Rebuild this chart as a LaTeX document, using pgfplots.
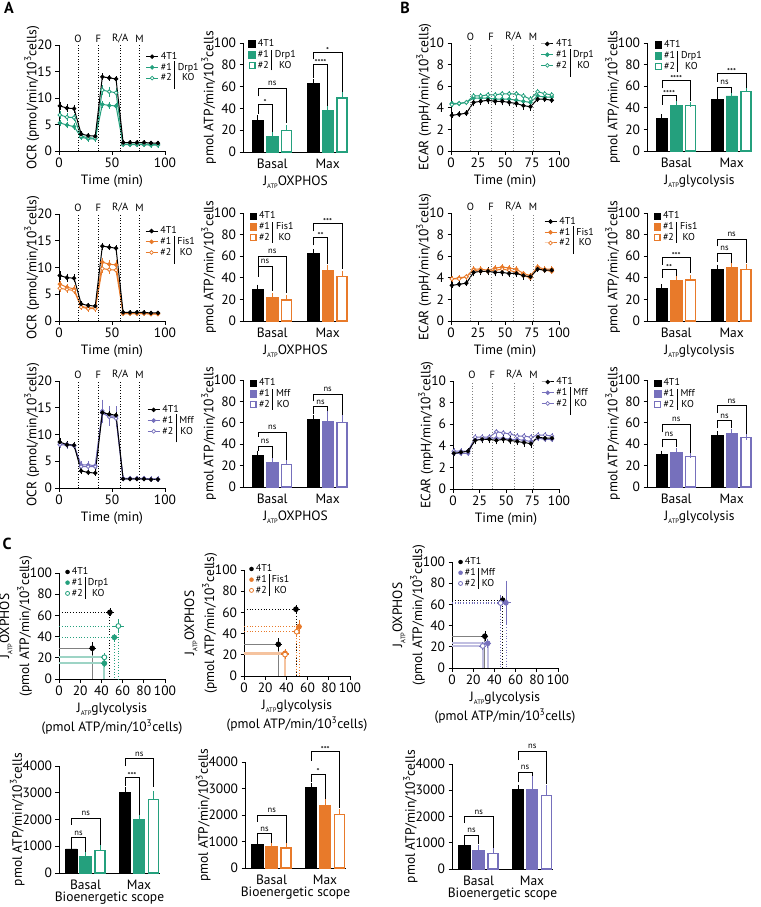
\documentclass[border=0pt]{standalone}
\usepackage{fontspec}
\setmainfont{PT Sans}
\usepackage{pgfplots}
\usepackage{pgfplotstable}
\pgfplotsset{compat=1.18}
\usetikzlibrary{calc}

\definecolor{tealc}{RGB}{36,160,125}
\definecolor{orangec}{RGB}{232,122,42}
\definecolor{purplec}{RGB}{118,112,188}

\newcommand{\tickf}{\fontsize{13.5}{14}\selectfont}
\newcommand{\labf}{\fontsize{13.5}{15}\selectfont}
\newcommand{\legf}{\fontsize{10}{10}\selectfont}
\newcommand{\injf}{\fontsize{10.5}{11}\selectfont}
\newcommand{\sigf}{\fontsize{8.5}{9}\selectfont}
\newcommand{\JATP}{J\raisebox{-0.5ex}{\fontsize{6.5}{7}\selectfont ATP}}
\newlength{\kow}
\newcommand{\under}[2]{\settowidth{\kow}{#1}\makebox[\kow][c]{#2}}

% OCR / ECAR time courses: t, 4T1 (k), clone #1 (a), clone #2 (b), each with its error
\pgfplotstableread{
t k ke a ae b be
0.8 8.5 0.5 5.3 0.3 6.8 0.4
7.5 8.1 0.4 4.9 0.3 6.4 0.4
14.2 8.0 0.4 4.6 0.3 6.3 0.3
20.9 3.2 0.2 2.6 0.2 2.8 0.2
27.5 2.9 0.2 2.3 0.2 2.5 0.2
34.2 2.8 0.2 2.3 0.2 2.4 0.2
40.9 14.0 0.3 8.8 0.3 11.5 0.6
47.4 13.8 0.2 8.6 0.3 11.2 0.6
53.8 13.6 0.2 8.5 0.3 11.0 0.6
60.5 1.6 0.1 1.2 0.1 1.3 0.1
67.0 1.6 0.1 1.2 0.1 1.3 0.1
73.5 1.6 0.1 1.2 0.1 1.3 0.1
80.2 1.6 0.1 1.2 0.1 1.3 0.1
86.8 1.5 0.1 1.1 0.1 1.3 0.1
93.3 1.5 0.1 1.1 0.1 1.2 0.1
}\ocrD
\pgfplotstableread{
t k ke a ae b be
0.8 8.5 0.5 6.9 0.3 6.1 0.3
7.5 8.1 0.4 6.3 0.3 5.9 0.3
14.2 8.0 0.4 6.0 0.3 5.7 0.3
20.9 3.2 0.2 2.7 0.2 2.6 0.2
27.5 2.9 0.2 2.5 0.2 2.3 0.2
34.2 2.8 0.2 2.4 0.2 2.3 0.2
40.9 14.0 0.3 11.0 0.5 9.8 0.5
47.4 13.8 0.2 10.6 0.5 9.6 0.5
53.8 13.6 0.2 10.5 0.5 9.5 0.5
60.5 1.6 0.1 1.4 0.1 1.4 0.1
67.0 1.6 0.1 1.4 0.1 1.4 0.1
73.5 1.6 0.1 1.4 0.1 1.4 0.1
80.2 1.6 0.1 1.4 0.1 1.4 0.1
86.8 1.5 0.1 1.4 0.1 1.3 0.1
93.3 1.5 0.1 1.4 0.1 1.3 0.1
}\ocrF
\pgfplotstableread{
t k ke a ae b be
0.8 8.6 0.4 8.2 0.4 8.1 0.3
7.5 8.1 0.3 8.2 0.3 8.0 0.3
14.2 8.0 0.3 8.0 0.3 7.9 0.3
20.9 3.2 0.2 4.3 0.4 4.0 0.3
27.5 2.9 0.2 4.3 0.4 4.0 0.3
34.2 2.8 0.2 4.2 0.4 4.0 0.3
40.9 14.1 0.3 14.4 1.8 14.0 1.5
47.4 13.8 0.2 13.5 1.5 13.3 1.2
53.8 13.6 0.2 13.4 1.5 13.0 1.2
60.5 1.7 0.1 1.8 0.2 1.7 0.1
67.0 1.7 0.1 1.8 0.2 1.7 0.1
73.5 1.7 0.1 1.8 0.2 1.7 0.1
80.2 1.7 0.1 1.8 0.2 1.7 0.1
86.8 1.6 0.1 1.7 0.2 1.6 0.1
93.3 1.6 0.1 1.7 0.2 1.6 0.1
}\ocrM
\pgfplotstableread{
t k ke a ae b be
0.8 3.3 0.1 4.4 0.1 4.3 0.1
7.5 3.4 0.1 4.4 0.1 4.4 0.1
14.2 3.5 0.1 4.5 0.1 4.5 0.1
20.9 4.5 0.2 4.9 0.1 5.1 0.1
27.5 4.6 0.2 4.9 0.1 5.1 0.1
34.2 4.7 0.2 4.9 0.1 5.2 0.1
40.9 4.6 0.2 4.8 0.1 5.2 0.1
47.4 4.6 0.2 4.8 0.1 5.3 0.1
53.8 4.5 0.2 4.8 0.1 5.3 0.1
60.5 4.4 0.2 4.7 0.1 5.3 0.1
67.0 4.2 0.2 4.6 0.1 5.1 0.1
73.5 4.1 0.2 4.5 0.1 4.8 0.1
80.2 4.8 0.1 5.1 0.1 5.5 0.1
86.8 4.8 0.1 5.0 0.1 5.3 0.1
93.3 4.7 0.1 5.0 0.1 5.2 0.1
}\ecD
\pgfplotstableread{
t k ke a ae b be
0.8 3.3 0.1 3.9 0.1 3.9 0.1
7.5 3.4 0.1 4.0 0.1 3.9 0.1
14.2 3.5 0.1 4.1 0.1 4.1 0.1
20.9 4.5 0.2 4.8 0.1 4.7 0.1
27.5 4.6 0.2 4.8 0.1 4.6 0.1
34.2 4.6 0.2 4.7 0.1 4.6 0.1
40.9 4.5 0.2 4.9 0.1 4.7 0.1
47.4 4.5 0.2 5.0 0.1 4.8 0.1
53.8 4.4 0.2 4.9 0.1 4.7 0.1
60.5 4.4 0.2 4.8 0.1 4.5 0.1
67.0 4.2 0.2 4.4 0.1 4.2 0.1
73.5 4.1 0.2 4.2 0.1 4.0 0.1
80.2 4.8 0.1 5.0 0.1 4.9 0.1
86.8 4.7 0.1 4.8 0.1 4.7 0.1
93.3 4.7 0.1 4.8 0.1 4.6 0.1
}\ecF
\pgfplotstableread{
t k ke a ae b be
0.8 3.3 0.1 3.3 0.1 3.5 0.1
7.5 3.4 0.1 3.3 0.1 3.5 0.1
14.2 3.5 0.1 3.3 0.1 3.5 0.1
20.9 4.5 0.2 4.6 0.1 4.8 0.1
27.5 4.6 0.2 4.6 0.1 4.8 0.1
34.2 4.6 0.2 4.7 0.1 4.8 0.1
40.9 4.5 0.2 4.7 0.1 5.3 0.1
47.4 4.6 0.2 4.7 0.1 5.2 0.1
53.8 4.5 0.2 4.6 0.1 5.1 0.1
60.5 4.4 0.2 4.6 0.1 4.9 0.1
67.0 4.3 0.2 4.5 0.1 4.9 0.1
73.5 4.2 0.2 4.4 0.1 4.8 0.1
80.2 4.8 0.1 4.7 0.1 5.0 0.1
86.8 4.7 0.1 4.6 0.1 5.0 0.1
93.3 4.7 0.1 4.6 0.1 4.9 0.1
}\ecM

\pgfplotsset{
  basic/.style={
    scale only axis, anchor=north west, axis lines=left,
    axis line style={-, line width=0.8pt},
    tick style={black, line width=0.8pt}, tick align=outside, major tick length=3.5pt,
    tick label style={font=\tickf}, label style={font=\labf}, ylabel shift=-9pt,
    /pgf/number format/assume math mode=true, /pgf/number format/1000 sep={},
    clip=false, legend cell align=left,
    legend style={draw=none, fill=none, font=\legf, anchor=north west,
      row sep=0.5pt, column sep=1.5pt, inner sep=0pt, nodes={inner sep=0.8pt}},
    legend image code/.code={\draw[mark repeat=2,mark phase=2,##1] plot coordinates {(0pt,0pt) (6pt,0pt) (12pt,0pt)};},
  },
  ocr/.style={basic, width=106pt, height=106pt, xmin=0, xmax=100, ymin=0, ymax=20,
    xtick={0,50,100}, ytick={0,5,...,20}, xlabel={Time (min)},
    ylabel={OCR (pmol/min/10\textsuperscript{3}cells)}},
  ecar/.style={basic, width=108pt, height=108pt, xmin=0, xmax=100, ymin=0, ymax=10,
    xtick={0,25,...,100}, ytick={0,2,...,10}, xlabel={Time (min)},
    ylabel={ECAR (mpH/min/10\textsuperscript{3}cells)}},
  barax/.style={basic, width=105pt, height=108pt, xmin=0, xmax=106, ymin=0, ymax=100,
    ytick={0,20,...,100}, xtick={29.5,85.5}, xticklabels={Basal,Max},
    major x tick style={draw=none}, ylabel={pmol ATP/min/10\textsuperscript{3}cells}},
  barbot/.style={basic, width=101pt, height=107pt, xmin=0, xmax=101, ymin=0, ymax=4000,
    ytick={0,1000,...,4000}, xtick={26.5,80}, xticklabels={Basal,Max},
    major x tick style={draw=none}, xlabel={Bioenergetic scope}, xlabel shift=-4.5pt,
    ylabel={pmol ATP/min/10\textsuperscript{3}cells}},
  sc/.style={basic, width=106pt, height=106pt, xmin=0, xmax=100, ymin=0, ymax=100,
    xtick={0,20,...,100}, ytick={0,20,...,100},
    xlabel style={align=center, font=\fontsize{13.5}{19}\selectfont},
    ylabel style={align=center, font=\fontsize{13.5}{20}\selectfont},
    xlabel={\JATP glycolysis\\(pmol ATP/min/10\textsuperscript{3}cells)},
    ylabel={\JATP OXPHOS\\(pmol ATP/min/10\textsuperscript{3}cells)},
    legend image code/.code={\draw[##1] plot coordinates {(2.5pt,0pt)};}},
  lg/.style={line width=1pt, mark=*, mark size=1.9pt, mark options={solid, line width=0.7pt}},
  ser/.style={lg, error bars/y dir=both, error bars/y explicit,
    error bars/error bar style={line width=0.6pt},
    error bars/error mark options={mark size=1.8pt, line width=0.6pt}},
  bk/.style={ybar, bar shift=0pt, bar width=11.5, line width=0.8pt,
    error bars/y dir=plus, error bars/y explicit,
    error bars/error bar style={line width=0.9pt},
    error bars/error mark options={mark size=2.8pt, line width=0.9pt}},
  pt/.style={only marks, mark=*, mark size=2.4pt, mark options={line width=0.8pt},
    error bars/x dir=both, error bars/x explicit, error bars/y dir=both, error bars/y explicit,
    error bars/error bar style={line width=0.7pt},
    error bars/error mark options={mark size=2pt, line width=0.7pt}},
}

\newcommand{\linelegend}[3]{%
  \addlegendimage{lg, black}\addlegendentry{4T1\rule[-#3]{0pt}{0pt}}
  \addlegendimage{lg, #1}\addlegendentry{\#1\hspace{2.5pt}\smash{\rule[-19pt]{0.6pt}{28pt}}\hspace{3pt}#2}
  \addlegendimage{lg, #1, mark options={solid, fill=white, line width=0.7pt}}\addlegendentry{\#2\hspace{6.1pt}\under{#2}{KO}}
}
\newcommand{\barlegend}[2]{%
  \addlegendimage{legend image code/.code={\draw[fill=black,draw=black] (0pt,-3.4pt) rectangle (6.8pt,3.4pt);}}\addlegendentry{4T1}
  \addlegendimage{legend image code/.code={\draw[fill=#1,draw=#1] (0pt,-3.4pt) rectangle (6.8pt,3.4pt);}}\addlegendentry{\#1\hspace{2.5pt}\smash{\rule[-13pt]{0.6pt}{20.5pt}}\hspace{3pt}#2}
  \addlegendimage{legend image code/.code={\draw[fill=white,draw=#1,line width=1.1pt] (0.5pt,-2.9pt) rectangle (6.3pt,2.9pt);}}\addlegendentry{\#2\hspace{6.1pt}\under{#2}{KO}}
}
\newcommand{\scatlegend}[2]{%
  \addlegendimage{only marks, mark=*, mark size=2pt, black}\addlegendentry{4T1}
  \addlegendimage{only marks, mark=*, mark size=2pt, #1}\addlegendentry{\#1\hspace{2pt}\smash{\rule[-13.5pt]{0.6pt}{21.5pt}}\hspace{2.5pt}#2}
  \addlegendimage{only marks, mark=*, mark size=2pt, #1, mark options={fill=white, line width=0.8pt}}\addlegendentry{\#2\hspace{5.1pt}\under{#2}{KO}}
}
\newcommand{\threelines}[2]{%
  \addplot[ser, #2] table[x=t, y=a, y error=ae] {#1};
  \addplot[ser, #2, mark options={solid, fill=white, line width=0.8pt}] table[x=t, y=b, y error=be] {#1};
  \addplot[ser, black] table[x=t, y=k, y error=ke] {#1};
}
\newcommand{\inj}[2]{%
  \draw[#2, dotted, line width=0.7pt] (axis cs:18,0) -- (axis cs:18,#1) node[above, black, font=\injf, inner sep=2pt] {O};
  \draw[#2, dotted, line width=0.7pt] (axis cs:37,0) -- (axis cs:37,#1) node[above, black, font=\injf, inner sep=2pt] {F};
  \draw[#2, dotted, line width=0.7pt] (axis cs:57.8,0) -- (axis cs:57.8,#1) node[above, black, font=\injf, inner sep=2pt] {R/A};
  \draw[#2, dotted, line width=0.7pt] (axis cs:76,0) -- (axis cs:76,#1) node[above, black, font=\injf, inner sep=2pt] {M};
}
\newcommand{\bars}[4]{%
  \addplot[bk, fill=black, draw=black, error bars/error bar style={black}] coordinates {#2};
  \addplot[bk, fill=#1, draw=#1, error bars/error bar style={#1}] coordinates {#3};
  \addplot[bk, fill=white, draw=#1, line width=1.3pt, bar width=10.2, error bars/error bar style={#1}] coordinates {#4};
}
% bracket between two bars: x1, x2, height, left leg end, right leg end, label
\newcommand{\sig}[6]{%
  \draw[line width=0.7pt] (axis cs:#1,#4) |- (axis cs:#2,#3) -- (axis cs:#2,#5);
  \node[font=\sigf, anchor=base, inner sep=0pt, yshift=2.5pt] at ($(axis cs:#1,#3)!0.5!(axis cs:#2,#3)$) {#6};
}
\newcommand{\sigs}[6]{%
  \draw[line width=0.7pt] (axis cs:#1,#4) |- (axis cs:#2,#3) -- (axis cs:#2,#5);
  \node[font=\sigf, anchor=base, inner sep=0pt, yshift=-1pt] at ($(axis cs:#1,#3)!0.5!(axis cs:#2,#3)$) {#6};
}
\newcommand{\guide}[3]{\addplot[#3] coordinates {(0,#2) (#1,#2) (#1,0)};}

\begin{document}
\begin{tikzpicture}
\path[use as bounding box] (0,0) rectangle (760pt,-907pt);
\node[font=\fontsize{16}{16}\selectfont\bfseries] at (9pt,-8pt) {A};
\node[font=\fontsize{16}{16}\selectfont\bfseries] at (405pt,-8pt) {B};
\node[font=\fontsize{16}{16}\selectfont\bfseries] at (7pt,-544pt) {C};

% ---------- row 1: Drp1 ----------
\begin{axis}[ocr, at={(59pt,-45pt)}, legend style={at={(0.815,0.94)}}]
  \linelegend{tealc}{Drp1}{4pt}
  \threelines{\ocrD}{tealc}
  \inj{20}{black}
\end{axis}
\begin{axis}[barax, at={(243pt,-43pt)}, height=109pt, xlabel={\JATP OXPHOS}, legend style={at={(0.05,1.04)}}]
  \barlegend{tealc}{Drp1}
  \bars{tealc}{(15,29) +- (0,2) (71,62.5) +- (0,1.5)}{(29.5,14.5) +- (0,1.5) (85.5,38.5) +- (0,0.7)}{(44,20) +- (0,2) (100,49.5) +- (0,3)}
  \sigs{15}{29.5}{43.5}{35}{18}{*}
  \sig{15}{44}{58.5}{51}{27}{ns}
  \sigs{71}{85.5}{80}{68}{42}{****}
  \sigs{71}{100}{91}{85}{55}{*}
\end{axis}
\begin{axis}[ecar, at={(451pt,-43pt)}, legend style={at={(0.83,1.04)}}]
  \linelegend{tealc}{Drp1}{4pt}
  \threelines{\ecD}{tealc}
  \inj{10}{gray}
\end{axis}
\begin{axis}[barax, at={(647pt,-43pt)}, xlabel={\JATP glycolysis}, legend style={at={(0.07,1.03)}}]
  \barlegend{tealc}{Drp1}
  \bars{tealc}{(15,30.5) +- (0,1) (71,47.5) +- (0,1.5)}{(29.5,42) +- (0,2) (85.5,51) +- (0,2)}{(44,42) +- (0,1) (100,55) +- (0,2)}
  \sigs{15}{29.5}{51.5}{43}{46}{****}
  \sigs{15}{44}{65.5}{58}{46}{****}
  \sig{71}{85.5}{59}{52}{54}{ns}
  \sigs{71}{100}{71.5}{64}{58}{***}
\end{axis}

% ---------- row 2: Fis1 ----------
\begin{axis}[ocr, at={(59pt,-214pt)}, height=107pt, legend style={at={(0.81,0.89)}}]
  \linelegend{orangec}{Fis1}{4pt}
  \threelines{\ocrF}{orangec}
  \inj{20}{black}
\end{axis}
\begin{axis}[barax, at={(243pt,-213pt)}, xlabel={\JATP OXPHOS}, legend style={at={(0.06,1.02)}}]
  \barlegend{orangec}{Fis1}
  \bars{orangec}{(15,29) +- (0,2) (71,62.5) +- (0,1.5)}{(29.5,21.5) +- (0,2) (85.5,46.5) +- (0,3)}{(44,19.5) +- (0,2) (100,41.5) +- (0,2.5)}
  \sig{15}{29.5}{50.5}{41}{28}{ns}
  \sig{15}{44}{60}{50}{26}{ns}
  \sigs{71}{85.5}{77}{70}{53}{**}
  \sigs{71}{100}{90}{83}{48}{***}
\end{axis}
\begin{axis}[ecar, at={(451pt,-213pt)}, legend style={at={(0.86,0.97)}}]
  \linelegend{orangec}{Fis1}{4pt}
  \threelines{\ecF}{orangec}
  \inj{10}{gray}
\end{axis}
\begin{axis}[barax, at={(647pt,-213pt)}, xlabel={\JATP glycolysis}, legend style={at={(0.06,1.02)}}]
  \barlegend{orangec}{Fis1}
  \bars{orangec}{(15,30.5) +- (0,1) (71,48) +- (0,1.5)}{(29.5,37.5) +- (0,1.5) (85.5,50) +- (0,1)}{(44,38) +- (0,2) (100,48) +- (0,2)}
  \sigs{15}{29.5}{47.5}{40}{42}{**}
  \sigs{15}{44}{59}{52}{44}{***}
  \sig{71}{85.5}{63}{55}{54}{ns}
  \sig{71}{100}{76}{69}{54}{ns}
\end{axis}

% ---------- row 3: Mff ----------
\begin{axis}[ocr, at={(59pt,-381pt)}, height=107pt, legend style={at={(0.83,0.78)}}]
  \linelegend{purplec}{Mff}{4pt}
  \threelines{\ocrM}{purplec}
  \inj{20}{black}
\end{axis}
\begin{axis}[barax, at={(243pt,-380pt)}, height=107pt, xlabel={\JATP OXPHOS}, legend style={at={(0.06,1.02)}}]
  \barlegend{purplec}{Mff}
  \bars{purplec}{(15,29.5) +- (0,2) (71,63) +- (0,1.5)}{(29.5,23) +- (0,1.5) (85.5,61) +- (0,8)}{(44,21) +- (0,2) (100,60) +- (0,5)}
  \sig{15}{29.5}{38}{34}{27}{ns}
  \sig{15}{44}{51}{47}{25}{ns}
  \sig{71}{85.5}{75}{68}{71}{ns}
  \sig{71}{100}{87}{80}{67}{ns}
\end{axis}
\begin{axis}[ecar, at={(453pt,-381pt)}, width=106pt, legend style={at={(0.83,1.04)}}]
  \linelegend{purplec}{Mff}{4pt}
  \threelines{\ecM}{purplec}
  \inj{10}{gray}
\end{axis}
\begin{axis}[barax, at={(647pt,-380pt)}, height=107pt, xlabel={\JATP glycolysis}, legend style={at={(0.065,1.02)}}]
  \barlegend{purplec}{Mff}
  \bars{purplec}{(15,30.5) +- (0,1) (71,48) +- (0,1.5)}{(29.5,32) +- (0,1.5) (85.5,50) +- (0,2)}{(44,28.5) +- (0,1) (100,46) +- (0,1)}
  \sig{15}{29.5}{44.7}{37}{37}{ns}
  \sig{15}{44}{58.7}{51}{32}{ns}
  \sig{71}{85.5}{62}{55}{55}{ns}
  \sig{71}{100}{76}{69}{50}{ns}
\end{axis}

% ---------- row 4: OXPHOS vs glycolysis ----------
\begin{axis}[sc, at={(59pt,-573pt)}, legend style={at={(0.06,1.06)}}]
  \scatlegend{tealc}{Drp1}
  \guide{31.4}{29}{gray, line width=0.8pt}
  \guide{42.8}{14.8}{tealc!45, line width=1.8pt}
  \guide{42.8}{20.5}{tealc!45, line width=1.8pt}
  \guide{48}{62.9}{black, dotted, line width=0.8pt}
  \guide{52.2}{39.3}{tealc, dotted, line width=0.8pt}
  \guide{56}{50}{tealc, dotted, line width=0.8pt}
  \addplot[pt, black] coordinates {(31.4,29) +- (1.5,4) (48,62.9) +- (2,2)};
  \addplot[pt, tealc] coordinates {(42.8,14.8) +- (1,2) (52.2,39.3) +- (1.5,1.5)};
  \addplot[pt, tealc, mark options={fill=white, line width=0.9pt}] coordinates {(42.8,20.5) +- (1,2) (56,50) +- (3,4.5)};
\end{axis}
\begin{axis}[sc, at={(244pt,-570pt)}, legend style={at={(0.05,1.06)}}]
  \scatlegend{orangec}{Fis1}
  \guide{32.4}{29.9}{gray, line width=0.8pt}
  \guide{38.7}{21.5}{orangec!45, line width=1.8pt}
  \guide{38.7}{20.2}{orangec!45, line width=1.8pt}
  \guide{49}{63}{black, dotted, line width=0.8pt}
  \guide{51.9}{46.5}{orangec, dotted, line width=0.8pt}
  \guide{49.7}{41.8}{orangec, dotted, line width=0.8pt}
  \addplot[pt, black] coordinates {(32.4,29.9) +- (1.5,4) (49,63) +- (2,2)};
  \addplot[pt, orangec] coordinates {(38.7,21.5) +- (1.5,2) (51.9,46.5) +- (1,4)};
  \addplot[pt, orangec, mark options={fill=white, line width=0.9pt}] coordinates {(38.7,20.2) +- (1.5,2) (49.7,41.8) +- (1.5,3)};
\end{axis}
\begin{axis}[sc, at={(452pt,-562pt)}, legend style={at={(0.06,1.05)}}]
  \scatlegend{purplec}{Mff}
  \guide{31}{30}{gray, line width=0.8pt}
  \guide{33.7}{23.3}{purplec!45, line width=1.8pt}
  \guide{29}{20.8}{purplec!45, line width=1.8pt}
  \guide{47.8}{64}{black, dotted, line width=0.8pt}
  \guide{50.9}{61.6}{purplec, dotted, line width=0.8pt}
  \guide{45.9}{61.3}{purplec, dotted, line width=0.8pt}
  \addplot[pt, black] coordinates {(31,30) +- (1.5,3) (47.8,64) +- (2,2)};
  \addplot[pt, purplec] coordinates {(33.7,23.3) +- (1.5,2.5) (50.9,61.6) +- (3,19)};
  \addplot[pt, purplec, mark options={fill=white, line width=0.9pt}] coordinates {(29,20.8) +- (1.5,2) (45.9,61.3) +- (2,6)};
\end{axis}

% ---------- row 5: bioenergetic scope ----------
\begin{axis}[barbot, at={(59pt,-766pt)}]
  \bars{tealc}{(12.5,900) +- (0,100) (66,3020) +- (0,80)}{(26.5,630) +- (0,70) (80,2000) +- (0,50)}{(41,850) +- (0,100) (94.5,2750) +- (0,200)}
  \sig{12.5}{26.5}{1320}{1100}{800}{ns}
  \sig{12.5}{41}{2050}{1800}{1050}{ns}
  \sigs{66}{80}{3560}{3250}{2150}{***}
  \sig{66}{94.5}{4270}{4000}{3200}{ns}
\end{axis}
\begin{axis}[barbot, at={(245pt,-762pt)}, height=106pt]
  \bars{orangec}{(12.5,900) +- (0,100) (66,3030) +- (0,80)}{(26.5,800) +- (0,60) (80,2350) +- (0,150)}{(41,760) +- (0,70) (94.5,2030) +- (0,100)}
  \sig{12.5}{26.5}{1300}{1100}{950}{ns}
  \sig{12.5}{41}{2000}{1750}{950}{ns}
  \sigs{66}{80}{3550}{3250}{2600}{*}
  \sigs{66}{94.5}{4400}{4050}{2250}{***}
\end{axis}
\begin{axis}[barbot, at={(452pt,-764pt)}, height=105pt]
  \bars{purplec}{(12.5,900) +- (0,100) (66,3030) +- (0,80)}{(26.5,720) +- (0,100) (80,3020) +- (0,400)}{(41,600) +- (0,80) (94.5,2800) +- (0,300)}
  \sig{12.5}{26.5}{1300}{1100}{950}{ns}
  \sig{12.5}{41}{2000}{1750}{800}{ns}
  \sig{66}{80}{3700}{3300}{3550}{ns}
  \sig{66}{94.5}{4500}{4150}{3250}{ns}
\end{axis}
\end{tikzpicture}
\end{document}
